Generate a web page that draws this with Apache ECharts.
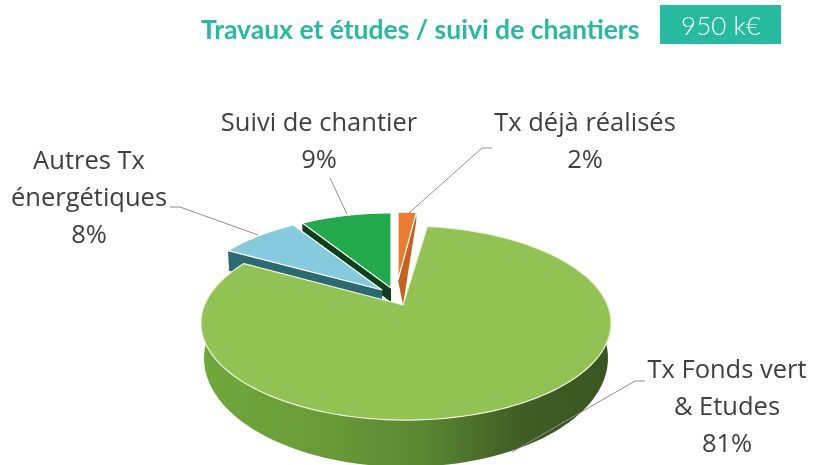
<!DOCTYPE html>
<html lang="fr">
<head>
<meta charset="utf-8">
<title>Travaux et études</title>
<script src="https://cdn.jsdelivr.net/npm/echarts@6/dist/echarts.min.js"></script>
<style>
	html, body { margin: 0; padding: 0; background: #fff; }
	#main { width: 824px; height: 465px; }
</style>
</head>
<body>
<div id="main"></div>
<script>
const titleText = 'Travaux et études / suivi de chantiers';
const totalText = '950 k€';
const categories = ['Tx déjà réalisés', 'Tx Fonds vert\n& Etudes', 'Autres Tx\nénergétiques', 'Suivi de chantier'];
const values = [2, 81, 8, 9];

const topColors = ['#ec7d2e', '#91c253', '#86cbdd', '#22a94b'];
const wallColors = ['#c4621e', null, '#2c6a73', '#0f3f1c'];
// slices are painted back to front, the big one last
const drawOrder = [3, 2, 0, 1];

// fake perspective of the disc
const RX = 201.5, RY = 93.7, K = 0.1856;
// per slice: where the tip sits, arc centre, radius scale, wall height at tip / at rim
const sliceLayout = [
	{ tip: [398, 280], c: [398, 280], scale: 0.86, wallTip: [5, 25], wallRim: [0, 8] },
	{ tip: [403, 305], c: [406, 305], scale: 1 },
	{ tip: [382, 290], c: [382, 290], scale: 0.95, wallTip: [0, 22], wallRim: [1, 20] },
	{ tip: [391, 288], c: [391, 288], scale: 0.95, wallTip: [0, 14], wallRim: [0, 14] }
];
// label centre and leader line per slice
const labelLayout = [
	{ at: [585, 142], line: [[409, 213], [482, 148], [492, 148]] },
	{ at: [727, 408], line: [[512, 452], [635, 381], [645, 381]] },
	{ at: [89, 199], line: [[258, 235], [180, 207], [170, 207]] },
	{ at: [319, 142], line: [[347, 214], [330, 178]] }
];

function project(deg) {
	const a = deg * Math.PI / 180;
	const u = Math.sin(a), d = Math.cos(a);
	const s = 1 / (1 + K * d);
	return [RX * u * s, -RY * d * s];
}

function arcPoints(from, to) {
	const pts = [];
	const n = Math.max(2, Math.ceil((to - from) / 2));
	for (let i = 0; i <= n; i++) pts.push(project(from + (to - from) * i / n));
	return pts;
}

const sum = values.reduce((a, b) => a + b, 0);
const startAngles = [];
values.reduce((acc, v, i) => { startAngles[i] = acc; return acc + v / sum * 360; }, 0);

function renderSlice(params, api) {
	const i = api.value(0);
	const from = startAngles[i];
	const to = from + api.value(1) / sum * 360;
	const lay = sliceLayout[i];
	const rim = arcPoints(from, to).map(p => [lay.c[0] + p[0] * lay.scale, lay.c[1] + p[1] * lay.scale]);
	const children = [];

	if (i === 1) {
		// outer wall of the big slice, front part only
		const front = arcPoints(Math.max(from, 70), Math.min(to, 290));
		const top = front.map(p => [lay.c[0] + p[0], lay.c[1] + p[1]]);
		const bottom = front.map(p => [lay.c[0] + p[0] * 0.985, lay.c[1] + 33 + p[1] * 1.12]).reverse();
		children.push({
			type: 'polygon',
			shape: { points: top.concat(bottom) },
			style: {
				fill: {
					type: 'linear', x: 0, y: 0, x2: 1, y2: 0,
					colorStops: [
						{ offset: 0, color: '#6ea83c' },
						{ offset: 0.3, color: '#6a9a38' },
						{ offset: 0.55, color: '#5a8532' },
						{ offset: 0.78, color: '#3f5d25' },
						{ offset: 1, color: '#3b5522' }
					]
				}
			}
		});
	} else {
		// side wall along the edge facing the viewer
		const corner = i === 0 ? rim[rim.length - 1] : rim[0];
		children.push({
			type: 'polygon',
			shape: {
				points: [
					corner, lay.tip,
					[lay.tip[0] + lay.wallTip[0], lay.tip[1] + lay.wallTip[1]],
					[corner[0] + lay.wallRim[0], corner[1] + lay.wallRim[1]]
				]
			},
			style: { fill: wallColors[i] }
		});
	}

	children.push({
		type: 'polygon',
		shape: { points: [lay.tip].concat(rim) },
		style: { fill: topColors[i], stroke: i === 1 ? '#eef3dc' : '#ffffff', lineWidth: 1.2, lineJoin: 'round' }
	});

	return { type: 'group', children: children };
}

// labels go in their own series so the leader lines sit above every slice
function renderLabel(params, api) {
	const i = api.value(0);
	const lab = labelLayout[i];
	return {
		type: 'group',
		children: [
			{
				type: 'polyline',
				shape: { points: lab.line },
				style: { fill: null, stroke: '#8f8f8f', lineWidth: 1 }
			},
			{
				type: 'text',
				x: lab.at[0],
				y: lab.at[1],
				style: {
					text: categories[i] + '\n' + api.value(1) + '%',
					font: '25.5px "Open Sans", sans-serif',
					fill: '#404040',
					align: 'center',
					verticalAlign: 'middle',
					lineHeight: 37
				}
			}
		]
	};
}

const chart = echarts.init(document.getElementById('main'), null, { renderer: 'canvas' });
chart.setOption({
	animation: false,
	backgroundColor: '#ffffff',
	title: {
		text: titleText,
		left: 201,
		top: 17,
		padding: 0,
		textStyle: { fontFamily: 'Lato', fontWeight: 'bold', fontSize: 26.5, color: '#26bba0' }
	},
	graphic: [
		{ type: 'rect', shape: { x: 660, y: 5, width: 121, height: 39 }, style: { fill: '#26bba0' } },
		{
			type: 'text', x: 721, y: 27,
			style: { text: totalText, font: '300 26px Lato', fill: '#ffffff', align: 'center', verticalAlign: 'middle' }
		}
	],
	series: [
		{
			type: 'custom',
			coordinateSystem: 'none',
			renderItem: renderSlice,
			data: drawOrder.map(i => [i, values[i]]),
			silent: true
		},
		{
			type: 'custom',
			coordinateSystem: 'none',
			renderItem: renderLabel,
			data: values.map((v, i) => [i, v]),
			silent: true,
			z: 3
		}
	]
});
</script>
</body>
</html>
